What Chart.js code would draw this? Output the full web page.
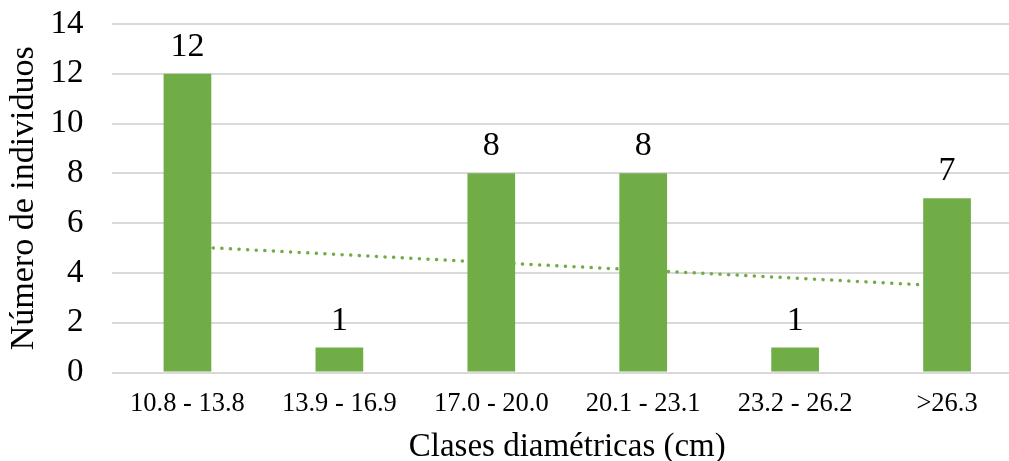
<!DOCTYPE html>
<html>
<head>
<meta charset="utf-8">
<script src="https://cdn.jsdelivr.net/npm/chart.js@4/dist/chart.umd.min.js"></script>
<style>
    html, body { margin: 0; padding: 0; background: #fff; overflow: hidden; }
    #wrap { width: 1030px; height: 467px; }
</style>
</head>
<body>
<div id="wrap"><canvas id="diamChart"></canvas></div>
<script>
// datos del grafico
const clases = ['10.8 - 13.8', '13.9 - 16.9', '17.0 - 20.0', '20.1 - 23.1', '23.2 - 26.2', '>26.3'];
const individuos = [12, 1, 8, 8, 1, 7];
// linea de tendencia
const tendencia = [5.06, 4.74, 4.42, 4.11, 3.79, 3.47];
const yTicks = [0, 2, 4, 6, 8, 10, 12, 14];

const verde = '#70AD47';
const fuente = "'Liberation Serif', 'Times New Roman', serif";

// etiquetas encima de las barras
const barLabels = {
    id: 'barLabels',
    afterDatasetsDraw(chart) {
        const ctx = chart.ctx;
        const meta = chart.getDatasetMeta(0);
        ctx.save();
        ctx.font = '34px ' + fuente;
        ctx.fillStyle = '#000';
        ctx.textAlign = 'center';
        ctx.textBaseline = 'alphabetic';
        meta.data.forEach(function (bar, i) {
            ctx.fillText(individuos[i], bar.x, bar.y - 18);
        });
        ctx.restore();
    }
};

let diamChart = new Chart(document.getElementById('diamChart'), {
    data: {
        labels: clases,
        datasets: [
            {
                type: 'bar',
                label: 'Individuos',
                data: individuos,
                backgroundColor: verde,
                barPercentage: 0.314,
                categoryPercentage: 1,
                order: 1
            },
            {
                type: 'line',
                label: 'Tendencia',
                data: tendencia,
                borderColor: verde,
                borderWidth: 3.5,
                borderDash: [0.1, 8.5],
                borderCapStyle: 'round',
                pointRadius: 0,
                fill: false,
                order: 2
            }
        ]
    },
    options: {
        responsive: true,
        maintainAspectRatio: false,
        animation: false,
        layout: {
            autoPadding: false,
            padding: { top: 24, left: 4, right: 7, bottom: 0 }
        },
        plugins: {
            legend: { display: false },
            tooltip: { enabled: false }
        },
        scales: {
            x: {
                grid: { display: false, drawTicks: false },
                border: { display: false },
                ticks: {
                    color: '#000',
                    font: { family: fuente, size: 26.5 },
                    padding: 16,
                    maxRotation: 0,
                    autoSkip: false
                },
                title: {
                    display: true,
                    text: 'Clases diamétricas (cm)',
                    color: '#000',
                    font: { family: fuente, size: 33 },
                    padding: { top: 7, bottom: 0 }
                },
                afterFit: function (scale) {
                    scale.height = 94.5;
                    scale.paddingLeft = 0;
                    scale.paddingRight = 0;
                }
            },
            y: {
                min: 0,
                max: 14,
                afterBuildTicks: function (axis) {
                    axis.ticks = yTicks.map(v => ({ value: v }));
                },
                grid: { color: '#D9D9D9', lineWidth: 2, drawTicks: false },
                border: { display: false },
                ticks: {
                    color: '#000',
                    font: { family: fuente, size: 33 },
                    padding: 28
                },
                title: {
                    display: true,
                    text: 'Número de individuos',
                    color: '#000',
                    font: { family: fuente, size: 34 },
                    padding: { top: 0, bottom: 9 }
                },
                afterFit: function (scale) {
                    scale.width = 107.5;
                    scale.paddingTop = 0;
                    scale.paddingBottom = 0;
                }
            }
        }
    },
    plugins: [barLabels]
});
</script>
</body>
</html>
